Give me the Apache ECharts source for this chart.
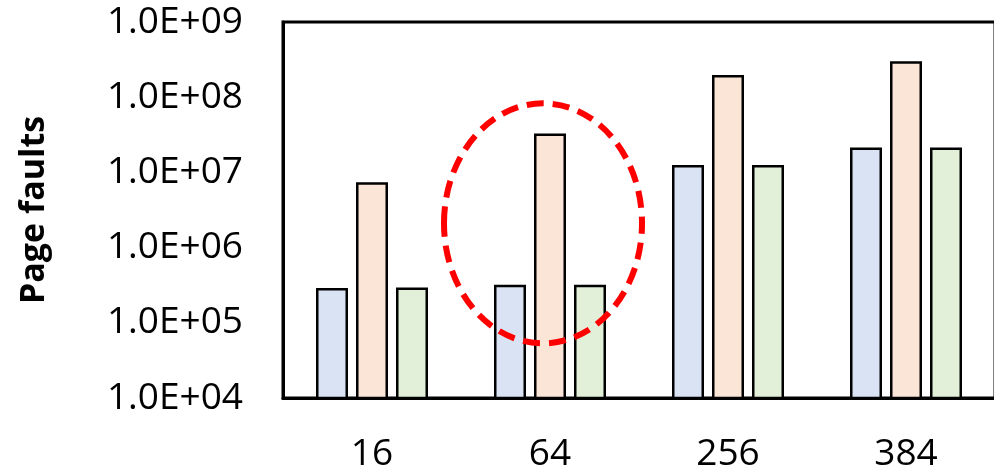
<!DOCTYPE html>
<html><head><meta charset="utf-8">
<script src="https://cdn.jsdelivr.net/npm/echarts@6/dist/echarts.min.js"></script>
<style>html,body{margin:0;padding:0;background:#fff}#c{width:994px;height:469px}</style>
</head><body><div id="c"></div>
<script>
const categories = ['16', '64', '256', '384'];
const seriesA = [2.9e5, 3.2e5, 1.25e7, 2.15e7];
const seriesB = [7.4e6, 3.3e7, 1.97e8, 3.0e8];
const seriesC = [2.95e5, 3.2e5, 1.25e7, 2.15e7];
const colors = ['#DAE3F3', '#FBE5D6', '#E2F0D9'];
const yMin = 1e4, yMax = 1e9;
const highlightCategory = '64';
const highlightValue = 2.1e6;

const font = 'Open Sans';
const chart = echarts.init(document.getElementById('c'));
function mk(data, i) {
  return {
    type: 'bar', data: data, barWidth: 32, barGap: '25%',
    itemStyle: { color: colors[i], borderColor: '#000', borderWidth: 2.5 },
    silent: true
  };
}
chart.setOption({
  animation: false,
  grid: { left: 283, top: 22, right: -1, bottom: 71, containLabel: false, outerBoundsMode: 'none',
    show: true, borderColor: '#000', borderWidth: 3, backgroundColor: 'transparent' },
  xAxis: {
    type: 'category', data: categories,
    axisLine: { lineStyle: { color: '#000', width: 3 } },
    axisTick: { show: false },
    axisLabel: { color: '#000', fontSize: 37, fontFamily: font, margin: 38 }
  },
  yAxis: {
    type: 'log', logBase: 10, min: yMin, max: yMax,
    name: 'Page faults', nameLocation: 'middle', nameGap: 232, nameRotate: 90,
    nameTextStyle: { color: '#000', fontSize: 34, fontWeight: 'bold', fontFamily: font },
    axisLine: { show: true, lineStyle: { color: '#000', width: 3 } },
    axisTick: { show: false },
    splitLine: { show: false },
    axisLabel: {
      color: '#000', fontSize: 37, fontFamily: font, margin: 40,
      formatter: function (v) { const e = Math.round(Math.log10(v)); return '1.0E+' + (e < 10 ? '0' : '') + e; }
    }
  },
  series: [mk(seriesA, 0), mk(seriesB, 1), mk(seriesC, 2)]
});
const p = chart.convertToPixel({ gridIndex: 0 }, [highlightCategory, highlightValue]);
chart.setOption({
  graphic: [{
    type: 'ellipse', silent: true,
    shape: { cx: p[0] - 7, cy: p[1], rx: 99, ry: 120 },
    style: { fill: 'none', stroke: '#FF0000', lineWidth: 6, lineDash: [17, 9] },
    z: 100
  }]
});
</script></body></html>
